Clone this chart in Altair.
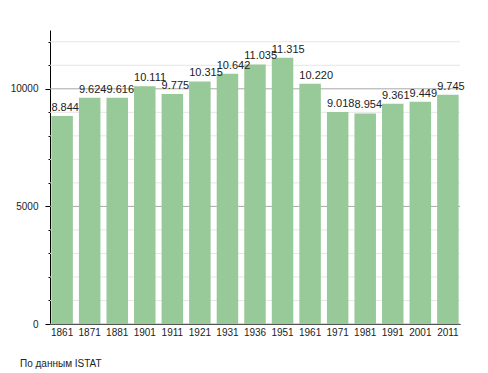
import altair as alt
import pandas as pd

years = ["1861", "1871", "1881", "1901", "1911", "1921", "1931", "1936",
         "1951", "1961", "1971", "1981", "1991", "2001", "2011"]
population = [8844, 9624, 9616, 10111, 9775, 10315, 10642, 11035,
              11315, 10220, 9018, 8954, 9361, 9449, 9745]
grid_values = list(range(0, 12001, 1000))
source_note = "По данным  ISTAT"

df = pd.DataFrame({"year": years, "pop": population})
df["label"] = [f"{v:,}".replace(",", ".") for v in population]
grid_df = pd.DataFrame({"g": grid_values})
grid_df["major"] = grid_df["g"] % 5000 == 0

FONT = "Liberation Sans"

yscale = alt.Scale(domain=[0, 12500], nice=False)
xscale = alt.Scale(paddingInner=0.22, paddingOuter=0.05)

yaxis = alt.Axis(values=grid_values, tickCount=13, grid=False, domainColor="#000", tickColor="#000",
                 labelExpr="datum.value % 5000 === 0 ? '' + datum.value : ''",
                 labelOverlap=False, labelFlush=False,
                 tickSize={"condition": {"test": "datum.value % 5000 === 0", "value": 5}, "value": 2},
                 labelFont=FONT, labelFontSize=10, labelColor="#222", labelPadding=7)

grid = alt.Chart(grid_df).mark_rule(strokeWidth=1).encode(
    y=alt.Y("g:Q", scale=yscale, axis=yaxis, title=None),
    color=alt.Color("major:N", scale=alt.Scale(domain=[True, False], range=["#a8a8a8", "#e6e6e6"]), legend=None),
)

bars = alt.Chart(df).mark_bar(color="#98c998").encode(
    x=alt.X("year:N", sort=None, scale=xscale, title=None,
            axis=alt.Axis(labelAngle=0, ticks=False, domainColor="#000", labelFont=FONT,
                          labelFontSize=10, labelColor="#222", labelPadding=3)),
    y=alt.Y("pop:Q", scale=yscale, title=None, axis=yaxis),
)

labels = alt.Chart(df).mark_text(align="left", baseline="bottom", dy=-3, dx=0, fontSize=11,
                                 font=FONT, color="#222").encode(
    x=alt.X("year:N", sort=None, scale=xscale, bandPosition=0),
    y=alt.Y("pop:Q", scale=yscale, title=None, axis=yaxis),
    text="label:N",
)

chart = alt.layer(grid, bars, labels).properties(
    width=410, height=294,
    autosize=alt.AutoSizeParams(type="none"),
    padding={"left": 42, "top": 22, "right": 20, "bottom": 49},
    title=alt.TitleParams(source_note, orient="bottom", anchor="start", frame="group", align="left",
                          fontSize=10, font=FONT, fontWeight="normal", color="#222",
                          offset=22, dx=-30),
).configure_view(stroke=None).configure_axisY(labelOverlap=False)

chart.save("out.html", embed_options={"renderer": "svg", "actions": False})
